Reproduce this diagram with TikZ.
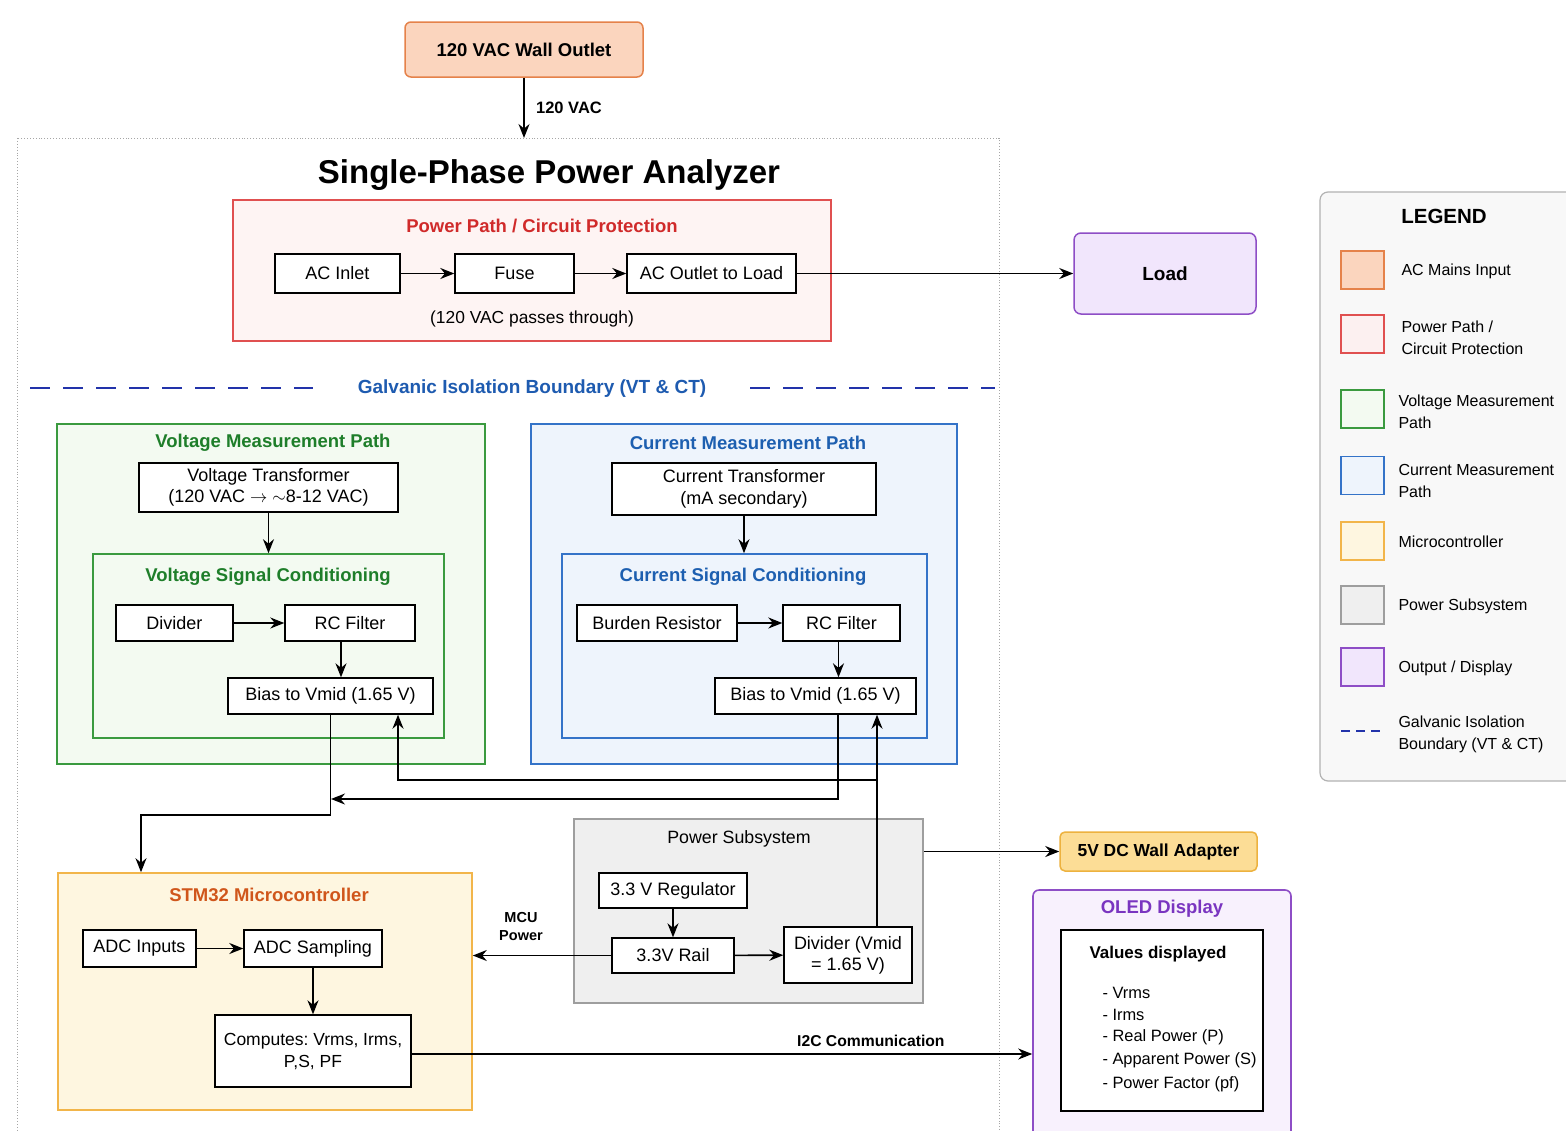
\documentclass[tikz,border=0pt]{standalone}
\usepackage{fontspec}
\setmainfont{Liberation Sans}
\usetikzlibrary{arrows.meta,calc}
\frenchspacing
\definecolor{orD}{HTML}{E5824A}\definecolor{orF}{HTML}{FBD5BE}
\definecolor{rdD}{HTML}{E05050}\definecolor{rdF}{HTML}{FEF4F3}\definecolor{rdT}{HTML}{D02A2A}
\definecolor{gnD}{HTML}{3A9A3F}\definecolor{gnF}{HTML}{F3FAF1}\definecolor{gnT}{HTML}{1E7E2A}
\definecolor{blD}{HTML}{3473C8}\definecolor{blF}{HTML}{EEF4FC}\definecolor{blT}{HTML}{1D5FB0}
\definecolor{ylD}{HTML}{F2B54A}\definecolor{ylF}{HTML}{FEF6E0}\definecolor{ylT}{HTML}{D0561B}
\definecolor{gyD}{HTML}{9E9E9E}\definecolor{gyF}{HTML}{EFEFEF}
\definecolor{ppD}{HTML}{8E4EC6}\definecolor{ppF}{HTML}{F1E6FC}\definecolor{ppF2}{HTML}{F8F1FD}\definecolor{ppT}{HTML}{7A35C0}
\definecolor{adF}{HTML}{FCDD96}\definecolor{adD}{HTML}{EDB23F}
\definecolor{isoD}{HTML}{2233AA}\definecolor{isoT}{HTML}{1E5BB0}
\definecolor{lgF}{HTML}{F8F8F8}
\begin{document}
\begin{tikzpicture}[x=1pt,y=-1pt,
  fA/.style={font=\fontsize{18}{21}\selectfont},
  fB/.style={font=\fontsize{18.5}{22}\selectfont\bfseries},
  fL/.style={font=\fontsize{16}{22}\selectfont},
  box/.style={draw=black, fill=white, line width=1.4pt, inner sep=1pt, align=center, fA},
  grp/.style={line width=1.6pt, inner sep=0pt},
  arr/.style={line width=1.6pt, -{Stealth[length=14pt,width=11pt]}},
  sw/.style={line width=1.5pt, minimum width=43pt, minimum height=38pt, inner sep=0pt},
  lt/.style={anchor=west, align=left, fL}
]
\useasboundingbox (0,0) rectangle (1566,1130);
\fill[white] (0,0) rectangle (1566,1130);
% outer frame
\draw[gray!70, dotted, line width=0.9pt] (17,138) rectangle (999,1145);

% wall outlet
\node[draw=orD, fill=orF, line width=1.5pt, rounded corners=6pt, minimum width=238pt, minimum height=55pt,
  font=\fontsize{18.5}{22}\selectfont\bfseries] (wall) at (524,49.5) {120 VAC Wall Outlet};
\coordinate (frametop) at (524,138);
\draw[arr] (wall.south) -- node[right=8pt, font=\fontsize{16.5}{19}\selectfont\bfseries] {120 VAC} (frametop);

\node[font=\fontsize{33}{38}\selectfont\bfseries] (title) at (549,175) {Single-Phase Power Analyzer};

% power path
\node[grp, draw=rdD, fill=rdF, minimum width=598pt, minimum height=141pt] (pp) at (532,270.5) {};
\node[fB, text=rdT] (ppt) at (542,226) {Power Path / Circuit Protection};
\node[box, minimum width=125pt, minimum height=39pt] (acin) at (337.5,273.5) {AC Inlet};
\node[box, minimum width=119pt, minimum height=39pt] (fuse) at (514.5,273.5) {Fuse};
\node[box, minimum width=169pt, minimum height=39pt] (acout) at (711.5,273.5) {AC Outlet to Load};
\node[font=\fontsize{17.4}{20}\selectfont] (pass) at (532,319) {(120 VAC passes through)};
\draw[arr] (acin) -- (fuse);
\draw[arr] (fuse) -- (acout);

% load
\node[draw=ppD, fill=ppF, line width=1.5pt, rounded corners=7pt, minimum width=182pt, minimum height=81pt,
  font=\fontsize{19}{22}\selectfont\bfseries] (load) at (1165,273.5) {Load};
\draw[arr] (acout) -- (load);

% isolation boundary
\node[font=\fontsize{19}{22}\selectfont\bfseries, text=isoT] (iso) at (532,389) {Galvanic Isolation Boundary (VT \& CT)};
\draw[isoD, line width=1.8pt, dash pattern=on 20pt off 13pt] (30,388) -- (313,388);
\draw[isoD, line width=1.8pt, dash pattern=on 20pt off 13pt] (750,388) -- (995,388);

% voltage path
\node[grp, draw=gnD, fill=gnF, minimum width=428pt, minimum height=340pt] (vm) at (271,594) {};
\node[fB, text=gnT] (vmt) at (273,443) {Voltage Measurement Path};
\node[box, minimum width=259pt, minimum height=49pt, font=\fontsize{18}{21.5}\selectfont] (vt) at (268.5,487.5) {Voltage Transformer\\(120 VAC $\rightarrow$ $\sim$8-12 VAC)};
\node[grp, draw=gnD, fill=gnF, minimum width=351pt, minimum height=184pt] (vsc) at (268.5,646) {};
\node[fB, text=gnT] (vsct) at (268,577) {Voltage Signal Conditioning};
\node[box, minimum width=117pt, minimum height=36pt] (vdiv) at (174.5,623) {Divider};
\node[box, minimum width=130pt, minimum height=36pt] (vrc) at (350,623) {RC Filter};
\node[box, minimum width=205pt, minimum height=36pt] (vbias) at (330.5,696) {Bias to Vmid (1.65 V)};
\draw[arr] (vt.south) -- (vt.south |- vsc.north);
\draw[arr] (vdiv) -- (vrc);
\draw[arr] ($(vrc.south)+(-9,0)$) -- ($(vrc.south |- vbias.north)+(-9,0)$);

% current path
\node[grp, draw=blD, fill=blF, minimum width=426pt, minimum height=340pt] (cm) at (744,594) {};
\node[fB, text=blT] (cmt) at (748,443) {Current Measurement Path};
\node[box, minimum width=264pt, minimum height=52pt, font=\fontsize{18}{21.5}\selectfont] (ct) at (744,489) {Current Transformer\\(mA secondary)};
\node[grp, draw=blD, fill=blF, minimum width=365pt, minimum height=184pt] (csc) at (744.5,646) {};
\node[fB, text=blT] (csct) at (743,577) {Current Signal Conditioning};
\node[box, minimum width=160pt, minimum height=36pt] (burden) at (657,623) {Burden Resistor};
\node[box, minimum width=117pt, minimum height=36pt] (crc) at (841.5,623) {RC Filter};
\node[box, minimum width=201pt, minimum height=36pt] (cbias) at (815.5,696) {Bias to Vmid (1.65 V)};
\draw[arr] (ct.south) -- (ct.south |- csc.north);
\draw[arr] (burden) -- (crc);
\draw[arr] ($(crc.south)+(-3,0)$) -- ($(crc.south |- cbias.north)+(-3,0)$);

% power subsystem
\node[grp, draw=gyD, fill=gyF, minimum width=349pt, minimum height=184pt] (ps) at (748.5,911) {};
\node[font=\fontsize{17.8}{21}\selectfont] (pst) at (739,839) {Power Subsystem};
\node[box, minimum width=148pt, minimum height=35pt] (reg) at (673,890.5) {3.3 V Regulator};
\node[box, minimum width=122pt, minimum height=35pt] (rail) at (673,955.5) {3.3V Rail};
\node[box, minimum width=128pt, minimum height=56pt, font=\fontsize{18}{21}\selectfont] (vdivm) at (848,955) {Divider (Vmid\\= 1.65 V)};
\draw[arr] (reg) -- (rail);
\draw[arr] (rail) -- (vdivm);

% adapter
\node[draw=adD, fill=adF, line width=1.5pt, rounded corners=5pt, minimum width=197pt, minimum height=39pt,
  font=\fontsize{17.4}{20}\selectfont\bfseries] (adapter) at (1158.5,851.5) {5V DC Wall Adapter};
\draw[arr] (ps.east |- adapter.west) -- (adapter.west);

% MCU
\node[grp, draw=ylD, fill=ylF, minimum width=414pt, minimum height=237pt] (mcu) at (265,991.5) {};
\node[fB, text=ylT] (mcut) at (269,895) {STM32 Microcontroller};
\node[box, minimum width=113pt, minimum height=37pt] (adcin) at (139.5,948.5) {ADC Inputs};
\node[box, minimum width=138pt, minimum height=37pt] (adcs) at (313,948.5) {ADC Sampling};
\node[box, minimum width=196pt, minimum height=72pt, font=\fontsize{17.5}{22}\selectfont] (comp) at (313,1051) {Computes: Vrms, Irms,\\P,S, PF};
\draw[arr] (adcin) -- (adcs);
\draw[arr] (adcs) -- (comp);
\draw[arr] (rail.west) -- (rail.west -| mcu.east);
\node[font=\fontsize{14.5}{18}\selectfont\bfseries, align=center] (mcupw) at (521,926) {MCU\\Power};

% OLED
\node[grp, draw=ppD, fill=ppF2, rounded corners=6pt, minimum width=258pt, minimum height=256pt] (oled) at (1162,1018) {};
\node[fB, text=ppT] (oledt) at (1162,909) {OLED Display};
\node[draw=black, fill=white, line width=1.4pt, minimum width=202pt, minimum height=181pt] (vals) at (1162,1020.5) {};
\node[font=\fontsize{17}{20}\selectfont\bfseries] (valt) at (1158,954) {Values displayed};
\node[anchor=west, font=\fontsize{16.4}{19}\selectfont] (v1) at (1099,993) {- Vrms};
\node[anchor=west, font=\fontsize{16.4}{19}\selectfont] (v2) at (1099,1015) {- Irms};
\node[anchor=west, font=\fontsize{16.4}{19}\selectfont] (v3) at (1099,1037) {- Real Power (P)};
\node[anchor=west, font=\fontsize{16.4}{19}\selectfont] (v4) at (1099,1060) {- Apparent Power (S)};
\node[anchor=west, font=\fontsize{16.4}{19}\selectfont] (v5) at (1099,1084) {- Power Factor (pf)};
\draw[arr] (comp.east |- 0,1054) coordinate (i2cs) -- (oled.west |- i2cs) node[pos=0.74, above=3pt, font=\fontsize{15.7}{18}\selectfont\bfseries] {I2C Communication};

% connectors between measurement paths, MCU and power subsystem
\coordinate (j1) at (141,815);
\draw[arr] (vbias.south) |- (j1) -- (j1 |- mcu.north);
\coordinate (j2) at (331,799);
\draw[arr] ($(cbias.south)+(22.5,0)$) |- (j2);
\coordinate (j3) at (877,780);
\draw[arr] (j3 |- vdivm.north) -- (j3 |- cbias.south);
\draw[arr] (j3) -| ($(vbias.south)+(67.5,0)$);

% legend
\node[draw=gray!60, fill=lgF, line width=1.2pt, rounded corners=8pt, minimum width=260pt, minimum height=589pt, inner sep=0pt] (legend) at (1450,486.5) {};
\node[font=\fontsize{20.5}{24}\selectfont\bfseries] (lgt) at (1444,216) {LEGEND};
\node[sw, draw=orD, fill=orF] (s1) at (1362.5,270) {};
\node[lt] (t1) at (1398,271) {AC Mains Input};
\node[sw, draw=rdD, fill=rdF!70!rdD!25] (s2) at (1362.5,334) {};
\node[lt] (t2) at (1398,338) {Power Path /\\Circuit Protection};
\node[sw, draw=gnD, fill=gnF] (s3) at (1362.5,409) {};
\node[lt] (t3) at (1395,412) {Voltage Measurement\\Path};
\node[sw, draw=blD, fill=blF] (s4) at (1362.5,475.5) {};
\node[lt] (t4) at (1395,481) {Current Measurement\\Path};
\node[sw, draw=ylD, fill=ylF] (s5) at (1362.5,541) {};
\node[lt] (t5) at (1395,542) {Microcontroller};
\node[sw, draw=gyD, fill=gyF] (s6) at (1362.5,605) {};
\node[lt] (t6) at (1395,606) {Power Subsystem};
\node[sw, draw=ppD, fill=ppF] (s7) at (1362.5,667) {};
\node[lt] (t7) at (1395,668) {Output / Display};
\coordinate (d1) at (1341,731);
\coordinate (d2) at (1384,731);
\draw[isoD, line width=1.8pt, dash pattern=on 9pt off 6pt] (d1) -- (d2);
\node[lt] (t8) at (1395,734) {Galvanic Isolation\\Boundary (VT \& CT)};
\end{tikzpicture}
\end{document}
